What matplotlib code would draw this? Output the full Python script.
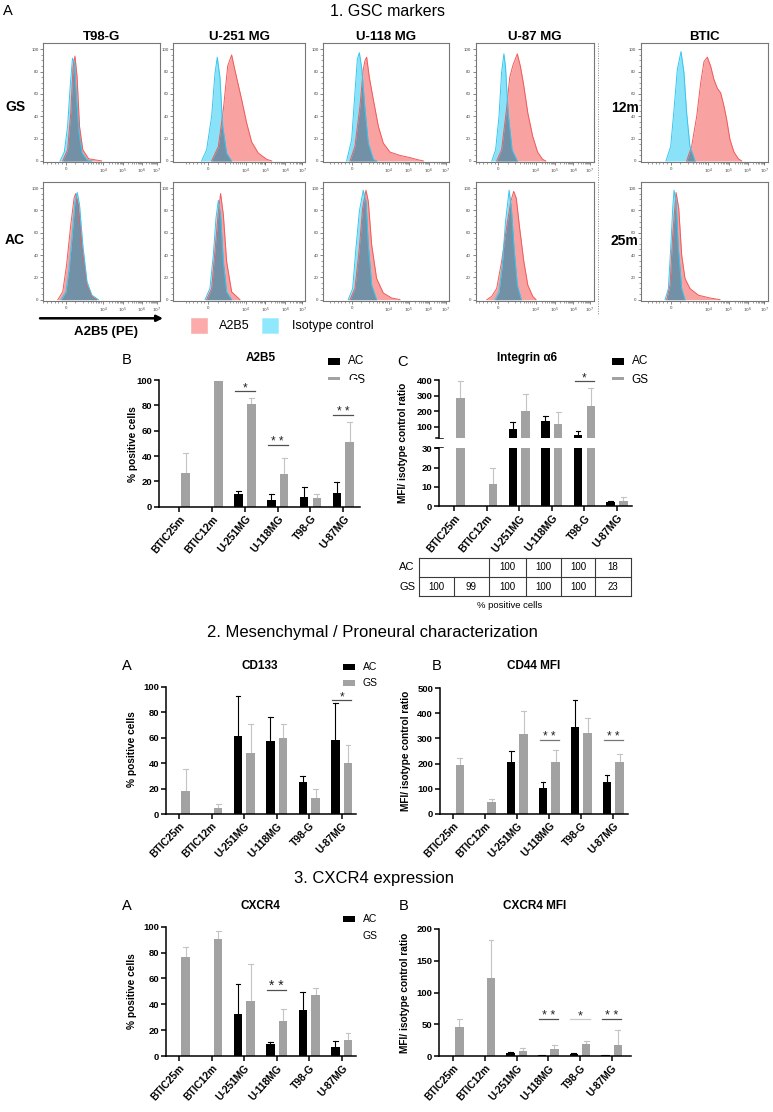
import numpy as np
import matplotlib
matplotlib.use("Agg")
import matplotlib.pyplot as plt
from matplotlib.patches import Rectangle

plt.rcParams['font.family'] = ['Liberation Sans', 'DejaVu Sans']

# ---------------- DATA ----------------
# Flow cytometry histograms: (x position along axis fraction, % of max)
t98_gs_a2b5 = [(0.143, 0), (0.186, 10), (0.214, 43), (0.234, 84), (0.251, 94), (0.269, 76), (0.291, 31), (0.32, 10), (0.371, 2), (0.486, 0)]
t98_gs_iso = [(0.12, 0), (0.157, 8), (0.186, 31), (0.209, 67), (0.229, 92), (0.246, 88), (0.263, 58), (0.286, 25), (0.314, 7), (0.357, 1), (0.40, 0)]
t98_ac_a2b5 = [(0.1, 0), (0.143, 7), (0.177, 31), (0.214, 67), (0.243, 91), (0.257, 95), (0.28, 85), (0.314, 46), (0.357, 13), (0.4, 3), (0.443, 0)]
t98_ac_iso = [(0.129, 0), (0.171, 7), (0.2, 28), (0.229, 61), (0.251, 88), (0.271, 96), (0.291, 85), (0.32, 49), (0.357, 16), (0.4, 4), (0.457, 0)]
u251_gs_a2b5 = [(0.291, 0), (0.342, 13), (0.38, 46), (0.413, 85), (0.443, 95), (0.463, 84), (0.486, 72), (0.519, 55), (0.557, 34), (0.595, 17), (0.646, 7), (0.709, 1.5), (0.747, 0)]
u251_gs_iso = [(0.215, 0), (0.253, 10), (0.291, 40), (0.316, 78), (0.334, 93), (0.354, 75), (0.375, 31), (0.405, 7), (0.443, 0)]
u251_ac_a2b5 = [(0.253, 0), (0.291, 10), (0.316, 43), (0.342, 79), (0.359, 95), (0.38, 76), (0.405, 34), (0.443, 7), (0.506, 0)]
u251_ac_iso = [(0.241, 0), (0.278, 10), (0.304, 40), (0.324, 73), (0.342, 89), (0.359, 76), (0.38, 34), (0.405, 7), (0.443, 0)]
u118_gs_a2b5 = [(0.212, 0), (0.251, 13), (0.291, 49), (0.317, 82), (0.331, 90), (0.344, 93), (0.365, 75), (0.397, 55), (0.437, 31), (0.476, 16), (0.529, 8), (0.608, 5), (0.688, 3), (0.754, 1), (0.794, 0)]
u118_gs_iso = [(0.185, 0), (0.225, 19), (0.251, 61), (0.27, 91), (0.286, 97), (0.304, 84), (0.331, 46), (0.357, 16), (0.397, 1.5), (0.423, 0)]
u118_ac_a2b5 = [(0.212, 0), (0.251, 10), (0.286, 46), (0.312, 82), (0.339, 98), (0.357, 88), (0.384, 49), (0.423, 19), (0.476, 6), (0.542, 1.5), (0.608, 0)]
u118_ac_iso = [(0.198, 0), (0.233, 10), (0.259, 46), (0.286, 79), (0.317, 98), (0.339, 88), (0.357, 49), (0.384, 13), (0.423, 0)]
u87_gs_a2b5 = [(0.163, 0), (0.205, 10), (0.247, 46), (0.275, 75), (0.303, 86), (0.34, 96), (0.368, 84), (0.396, 67), (0.43, 43), (0.472, 22), (0.514, 8), (0.556, 1.5), (0.584, 0)]
u87_gs_iso = [(0.121, 0), (0.154, 10), (0.183, 40), (0.205, 79), (0.225, 96), (0.239, 84), (0.261, 43), (0.295, 10), (0.34, 0)]
u87_ac_a2b5 = [(0.079, 0), (0.121, 3), (0.163, 10), (0.205, 34), (0.247, 64), (0.284, 88), (0.309, 97), (0.331, 91), (0.36, 64), (0.396, 34), (0.43, 13), (0.472, 3), (0.5, 0)]
u87_ac_iso = [(0.149, 0), (0.183, 7), (0.211, 31), (0.239, 70), (0.27, 98), (0.289, 82), (0.312, 46), (0.34, 13), (0.374, 0)]
btic12_a2b5 = [(0.36, 0), (0.399, 13), (0.439, 40), (0.47, 70), (0.496, 89), (0.522, 93), (0.548, 85), (0.574, 73), (0.601, 65), (0.627, 61), (0.653, 49), (0.674, 37), (0.7, 19), (0.731, 8), (0.765, 2), (0.791, 0)]
btic12_iso = [(0.198, 0), (0.235, 13), (0.261, 46), (0.287, 82), (0.316, 98), (0.339, 79), (0.36, 43), (0.386, 13), (0.426, 0)]
btic25_a2b5 = [(0.204, 0), (0.23, 13), (0.251, 58), (0.277, 96), (0.298, 82), (0.321, 40), (0.347, 19), (0.386, 10), (0.452, 4), (0.543, 1.5), (0.621, 0)]
btic25_iso = [(0.191, 0), (0.217, 10), (0.235, 46), (0.251, 82), (0.261, 98), (0.277, 88), (0.295, 46), (0.321, 10), (0.347, 0)]

hist_titles = ["T98-G", "U-251 MG", "U-118 MG", "U-87 MG", "BTIC"]
decade_labels = ["0", "$10^4$", "$10^5$", "$10^6$", "$10^7$"]

# Bar charts
categories = ["BTIC25m", "BTIC12m", "U-251MG", "U-118MG", "T98-G", "U-87MG"]
nan = np.nan

a2b5_ac = [nan, nan, 9.7, 5.3, 7.9, 11.0]
a2b5_ac_sd = [nan, nan, 2.7, 4.4, 7.9, 8.7]
a2b5_gs = [26.8, 99.2, 81.0, 25.8, 6.6, 51.3]
a2b5_gs_sd = [15.3, 0.4, 4.5, 12.4, 3.1, 15.8]
a2b5_sig = ["", "", "*", "* *", "", "* *"]
a2b5_sig_y = [nan, nan, 91, 49, nan, 72]

itga6_ac = [nan, nan, 83, 137, 45, 1.9]
itga6_ac_sd = [nan, nan, 45, 30, 30, 0.6]
itga6_gs = [283, 11.2, 200, 116, 233, 2.6]
itga6_gs_sd = [110, 8.6, 108, 77, 114, 1.9]
itga6_sig = ["", "", "", "", "*", ""]
itga6_sig_y = [nan, nan, nan, nan, 393, nan]
itga6_pct_ac = ["", "", "100", "100", "100", "18"]
itga6_pct_gs = ["100", "99", "100", "100", "100", "23"]

cd133_ac = [nan, nan, 61.5, 57.3, 25.0, 58.0]
cd133_ac_sd = [nan, nan, 31.5, 18.7, 5.0, 29.0]
cd133_gs = [18.0, 5.0, 47.6, 60.0, 12.3, 40.0]
cd133_gs_sd = [17.0, 2.6, 23.4, 10.4, 7.1, 14.5]
cd133_sig = ["", "", "", "", "", "*"]
cd133_sig_y = [nan, nan, nan, nan, nan, 89.5]

cd44_ac = [nan, nan, 206, 102, 344, 125]
cd44_ac_sd = [nan, nan, 44, 24, 111, 31]
cd44_gs = [193, 45, 318, 206, 320, 206]
cd44_gs_sd = [28, 12, 92, 47, 60, 32]
cd44_sig = ["", "", "", "* *", "", "* *"]
cd44_sig_y = [nan, nan, nan, 293, nan, 295]

cxcr4_ac = [nan, nan, 32.7, 9.3, 35.6, 6.7]
cxcr4_ac_sd = [nan, nan, 22.7, 1.3, 13.6, 4.6]
cxcr4_gs = [76.3, 90.5, 42.5, 26.8, 46.9, 12.6]
cxcr4_gs_sd = [7.7, 5.9, 28.9, 9.8, 5.9, 5.4]
cxcr4_sig = ["", "", "", "* *", "", ""]
cxcr4_sig_y = [nan, nan, nan, 51, nan, nan]

cxcr4mfi_ac = [nan, nan, 4.7, 1.5, 3.7, 1.5]
cxcr4mfi_ac_sd = [nan, nan, 2.1, 0.5, 0.8, 0.5]
cxcr4mfi_gs = [46, 123, 8, 11, 19.5, 17]
cxcr4mfi_gs_sd = [13, 60, 4, 6, 3.5, 24]
cxcr4mfi_sig = ["", "", "", "* *", "*", "* *"]
cxcr4mfi_sig_y = [nan, nan, nan, 58, 58, 58]

# ---------------- FIGURE ----------------
W, H = 773, 1112
fig = plt.figure(figsize=(W / 100, H / 100), dpi=100)
ov = fig.add_axes([0, 0, 1, 1])
ov.set_xlim(0, W)
ov.set_ylim(H, 0)
ov.axis('off')


def add_ax(l, t, r, b):
    return fig.add_axes([l / W, 1 - b / H, (r - l) / W, (b - t) / H])


def T(x, y, s, **kw):
    kw.setdefault('ha', 'center')
    kw.setdefault('va', 'center')
    ov.text(x, y, s, **kw)


RED_FILL = "#f8a2a2"
RED_EDGE = "#f25a5a"
CYAN_FILL = "#8ae2f8"
CYAN_EDGE = "#35c6ee"
OVERLAP = "#7290a6"
GREY = "#a2a2a2"
GREY_ERR = "#c4c4c4"

# ---- Section 1 : histograms ----
T(8, 11, "A", fontsize=10.5)
T(387, 12, "1. GSC markers", fontsize=11.5)

cols = [(43.3, 160), (173.3, 305), (323.3, 449.3), (475.7, 594.3), (640.7, 768.3)]
rows = [(43.3, 162.3), (182, 301)]
col_ticks = [
    [0.17, 0.5, 0.67, 0.84, 0.97],
    [0.265, 0.55, 0.70, 0.85, 0.98],
    [0.23, 0.52, 0.68, 0.84, 0.97],
    [0.177, 0.5, 0.66, 0.82, 0.96],
    [0.235, 0.53, 0.69, 0.84, 0.97],
]
hist_data = [
    [(t98_gs_a2b5, t98_gs_iso), (t98_ac_a2b5, t98_ac_iso)],
    [(u251_gs_a2b5, u251_gs_iso), (u251_ac_a2b5, u251_ac_iso)],
    [(u118_gs_a2b5, u118_gs_iso), (u118_ac_a2b5, u118_ac_iso)],
    [(u87_gs_a2b5, u87_gs_iso), (u87_ac_a2b5, u87_ac_iso)],
    [(btic12_a2b5, btic12_iso), (btic25_a2b5, btic25_iso)],
]
grid = np.linspace(0, 1, 800)
for ci, (l, r) in enumerate(cols):
    T((l + r) / 2, 37, hist_titles[ci], fontsize=9.5, fontweight='bold')
    for ri, (t, b) in enumerate(rows):
        ax = add_ax(l, t, r, b)
        red, iso = hist_data[ci][ri]
        rx, ry = map(np.array, zip(*red))
        cx, cy = map(np.array, zip(*iso))
        rr = np.interp(grid, rx, ry, left=0, right=0)
        cc = np.interp(grid, cx, cy, left=0, right=0)
        ax.fill_between(grid, 0, rr, color=RED_FILL, lw=0)
        ax.fill_between(grid, 0, cc, color=CYAN_FILL, lw=0)
        ax.fill_between(grid, 0, np.minimum(rr, cc), color=OVERLAP, lw=0)
        ax.plot(rx, ry, color=RED_EDGE, lw=0.7)
        ax.plot(cx, cy, color=CYAN_EDGE, lw=0.7)
        ax.set_xlim(0, 1)
        ax.set_ylim(-1.2, 105.4)
        tk = col_ticks[ci]
        ax.set_xticks(tk)
        ax.set_xticklabels(decade_labels, fontsize=3.2, color='#444')
        minors = []
        for k in range(1, 4):
            a, bb = tk[k], tk[k + 1]
            minors += [a + (bb - a) * np.log10(m) for m in range(2, 10)]
        a, bb = tk[0], tk[1]
        minors += [a + (bb - a) * f for f in (0.25, 0.45, 0.58, 0.67, 0.74, 0.8, 0.85, 0.9, 0.95)]
        minors += [a - (bb - a) * f for f in (0.1, 0.2, 0.3, 0.4, 0.5, 0.6)]
        ax.set_xticks(minors, minor=True)
        ax.set_yticks([0, 20, 40, 60, 80, 100])
        ax.set_yticklabels(["0", "20", "40", "60", "80", "100"], fontsize=3.2, color='#444')
        ax.set_yticks(np.arange(0, 101, 5), minor=True)
        ax.tick_params(which='major', length=2.2, width=0.5, color='#555', pad=1.2)
        ax.tick_params(which='minor', length=1.1, width=0.4, color='#555')
        for sp in ax.spines.values():
            sp.set_color('#777')
            sp.set_linewidth(0.8)

T(15, 107, "GS", fontsize=10, fontweight='bold')
T(15, 240, "AC", fontsize=10, fontweight='bold')
T(624.5, 108, "12m", fontsize=10, fontweight='bold')
T(624.5, 240.7, "25m", fontsize=10, fontweight='bold')
ov.plot([598.3, 598.3], [43, 315], color='#888', lw=0.7, ls=(0, (1, 1.5)))

ov.annotate('', xy=(163, 318.3), xytext=(40, 318.3),
            arrowprops=dict(arrowstyle='-|>', lw=1.8, color='black', mutation_scale=9, shrinkA=0, shrinkB=0))
T(106, 332, "A2B5 (PE)", fontsize=9.5, fontweight='bold')
ov.add_patch(Rectangle((190.7, 318), 16, 15, facecolor="#fcaaaa", edgecolor="#f5b5b5", lw=0.5))
T(219.3, 325.7, "A2B5", fontsize=9, ha='left')
ov.add_patch(Rectangle((261.7, 318), 16.6, 15, facecolor="#8fe8fc", edgecolor="#a5ecfc", lw=0.5))
T(291.7, 325.7, "Isotype control", fontsize=9, ha='left')


# ---- bar chart helper ----
def style_ax(ax, show_bottom=True):
    ax.spines['top'].set_visible(False)
    ax.spines['right'].set_visible(False)
    ax.spines['left'].set_linewidth(1.1)
    ax.spines['bottom'].set_linewidth(1.1)
    if not show_bottom:
        ax.spines['bottom'].set_visible(False)
    ax.tick_params(axis='both', length=3.5, width=1.1, pad=1.5)
    for lbl in ax.get_yticklabels():
        lbl.set_fontweight('bold')
        lbl.set_fontsize(6.8)


def draw_bars(ax, ac, ac_sd, gs, gs_sd, off=0.195, w=0.26, cap=0.075):
    x = np.arange(len(categories))
    ac = np.array(ac, float); gs = np.array(gs, float)
    ac_sd = np.array(ac_sd, float); gs_sd = np.array(gs_sd, float)
    ax.bar(x - off, np.nan_to_num(ac), w, color='black', zorder=2)
    ax.bar(x + off, gs, w, color=GREY, zorder=2)
    for xs, m, s, c in ((x - off, ac, ac_sd, 'black'), (x + off, gs, gs_sd, GREY_ERR)):
        for xi, mi, si in zip(xs, m, s):
            if np.isnan(mi):
                continue
            ax.plot([xi, xi], [mi, mi + si], color=c, lw=0.8, zorder=1.5)
            ax.plot([xi - cap, xi + cap], [mi + si, mi + si], color=c, lw=0.8, zorder=1.5)


def draw_sig(ax, labels, ys, colors=None, fs=8.5):
    for i, (lab, yv) in enumerate(zip(labels, ys)):
        if not lab:
            continue
        c = colors[i] if colors else '#505050'
        ax.plot([i - 0.3, i + 0.3], [yv, yv], color=c, lw=0.9, clip_on=False, zorder=3)
        ax.text(i, yv, lab, ha='center', va='baseline', fontsize=fs, color='#222', clip_on=False)


def set_xcats(ax, fs=7.6, rot=48):
    ax.set_xticks(np.arange(len(categories)))
    ax.set_xticklabels(categories, rotation=rot, ha='right', va='top', rotation_mode='anchor',
                       fontsize=fs, fontweight='bold')


def legend(x, y1, y2, fs):
    ov.add_patch(Rectangle((x, y1 - 3), 12, 6.2, facecolor='black', lw=0))
    T(x + 20, y1, "AC", fontsize=fs, ha='left')
    ov.add_patch(Rectangle((x, y2 - 3), 12, 6.2, facecolor=GREY, lw=0))
    T(x + 20, y2, "GS", fontsize=fs, ha='left')


# ---- Section 1 B: A2B5 ----
T(127, 360, "B", fontsize=10.5)
T(260.7, 358, "A2B5", fontsize=8.5, fontweight='bold')
legend(328.3, 361.4, 379.7, 8.5)
ax = add_ax(159.3, 380, 360, 506.7)
draw_bars(ax, a2b5_ac, a2b5_ac_sd, a2b5_gs, a2b5_gs_sd)
ax.set_xlim(-0.61, 5.51)
ax.set_ylim(0, 100)
ax.set_yticks([0, 20, 40, 60, 80, 100])
set_xcats(ax, rot=50)
style_ax(ax)
draw_sig(ax, a2b5_sig, a2b5_sig_y)
T(133.3, 444, "% positive cells", fontsize=7.3, fontweight='bold', rotation=90)

# ---- Section 1 C: Integrin a6 (broken axis) ----
T(403, 362, "C", fontsize=10.5)
T(527, 358, "Integrin α6", fontsize=8.5, fontweight='bold')
legend(611.7, 361.4, 379.7, 8.5)
axu = add_ax(439.3, 380, 632, 438.3)
axl = add_ax(439.3, 448.3, 632, 506)
for a in (axu, axl):
    draw_bars(a, itga6_ac, itga6_ac_sd, itga6_gs, itga6_gs_sd)
    a.set_xlim(-0.45, 5.46)
axu.set_ylim(26, 400)
axu.set_yticks([100, 200, 300, 400])
axu.set_xticks([])
style_ax(axu, show_bottom=False)
axl.set_ylim(0, 30)
axl.set_yticks([0, 10, 20, 30])
set_xcats(axl, rot=50)
style_ax(axl)
draw_sig(axu, itga6_sig, itga6_sig_y)
ov.plot([435.5, 443], [438.3, 438.3], color='black', lw=1.1)
ov.plot([435.5, 443], [448.3, 448.3], color='black', lw=1.1)
T(403.3, 442.5, "MFI/ isotype control ratio", fontsize=7.3, fontweight='bold', rotation=90)

# table
xs_tab = [419, 454, 489, 526, 561, 595, 631]
ys_tab = [558, 577, 596]
tc = '#3a3a3a'
for yy in ys_tab:
    ov.plot([xs_tab[0], xs_tab[-1]], [yy, yy], color=tc, lw=0.8)
for k, xx in enumerate(xs_tab):
    if k == 1:
        ov.plot([xx, xx], [577, 596], color=tc, lw=0.8)
    else:
        ov.plot([xx, xx], [558, 596], color=tc, lw=0.8)
T(407, 567.5, "AC", fontsize=8)
T(407, 586.5, "GS", fontsize=8)
for k in range(6):
    cxm = (xs_tab[k] + xs_tab[k + 1]) / 2
    if itga6_pct_ac[k]:
        T(cxm, 567.5, itga6_pct_ac[k], fontsize=7)
    T(cxm, 586.5, itga6_pct_gs[k], fontsize=7)
T(510, 605, "% positive cells", fontsize=6.8)

# ---- Section 2 ----
T(372.5, 633, "2. Mesenchymal / Proneural characterization", fontsize=12)
T(127, 666, "A", fontsize=10.5)
T(260, 666, "CD133", fontsize=8.5, fontweight='bold')
legend(342.7, 666.5, 683, 7.5)
ax = add_ax(166, 686.7, 356, 814)
draw_bars(ax, cd133_ac, cd133_ac_sd, cd133_gs, cd133_gs_sd)
ax.set_xlim(-0.41, 5.44)
ax.set_ylim(0, 100)
ax.set_yticks([0, 20, 40, 60, 80, 100])
set_xcats(ax, fs=7.4, rot=46)
style_ax(ax)
draw_sig(ax, cd133_sig, cd133_sig_y)
T(131.7, 749, "% positive cells", fontsize=7.3, fontweight='bold', rotation=90)

T(436.7, 666, "B", fontsize=10.5)
T(533.3, 666, "CD44 MFI", fontsize=8.5, fontweight='bold')
ax = add_ax(440, 688.3, 628.3, 813.7)
draw_bars(ax, cd44_ac, cd44_ac_sd, cd44_gs, cd44_gs_sd)
ax.set_xlim(-0.42, 5.47)
ax.set_ylim(0, 500)
ax.set_yticks([0, 100, 200, 300, 400, 500])
set_xcats(ax, fs=7.4, rot=46)
style_ax(ax)
draw_sig(ax, cd44_sig, cd44_sig_y, colors=['#777'] * 6)
T(406, 750.5, "MFI/ isotype control ratio", fontsize=7.3, fontweight='bold', rotation=90)

# ---- Section 3 ----
T(373.7, 878, "3. CXCR4 expression", fontsize=12)
T(127, 906, "A", fontsize=10.5)
T(260, 906, "CXCR4", fontsize=8.5, fontweight='bold')
legend(342.7, 918.5, 936, 7.5)
ax = add_ax(166, 926.7, 356, 1056)
draw_bars(ax, cxcr4_ac, cxcr4_ac_sd, cxcr4_gs, cxcr4_gs_sd)
ax.set_xlim(-0.41, 5.44)
ax.set_ylim(0, 100)
ax.set_yticks([0, 20, 40, 60, 80, 100])
set_xcats(ax, fs=7.4, rot=48)
style_ax(ax)
draw_sig(ax, cxcr4_sig, cxcr4_sig_y, fs=10)
T(131.7, 991, "% positive cells", fontsize=7.3, fontweight='bold', rotation=90)

T(404, 906, "B", fontsize=10.5)
T(535, 906, "CXCR4 MFI", fontsize=8.5, fontweight='bold')
ax = add_ax(439.3, 929, 630.7, 1056)
draw_bars(ax, cxcr4mfi_ac, cxcr4mfi_ac_sd, cxcr4mfi_gs, cxcr4mfi_gs_sd)
ax.set_xlim(-0.44, 5.6)
ax.set_ylim(0, 200)
ax.set_yticks([0, 50, 100, 150, 200])
set_xcats(ax, fs=7.4, rot=48)
style_ax(ax)
draw_sig(ax, cxcr4mfi_sig, cxcr4mfi_sig_y, colors=['#505050'] * 4 + ['#c8c8c8', '#505050'], fs=9)
T(405, 992.5, "MFI/ isotype control ratio", fontsize=7.3, fontweight='bold', rotation=90)

fig.savefig("out.png", dpi=100)
